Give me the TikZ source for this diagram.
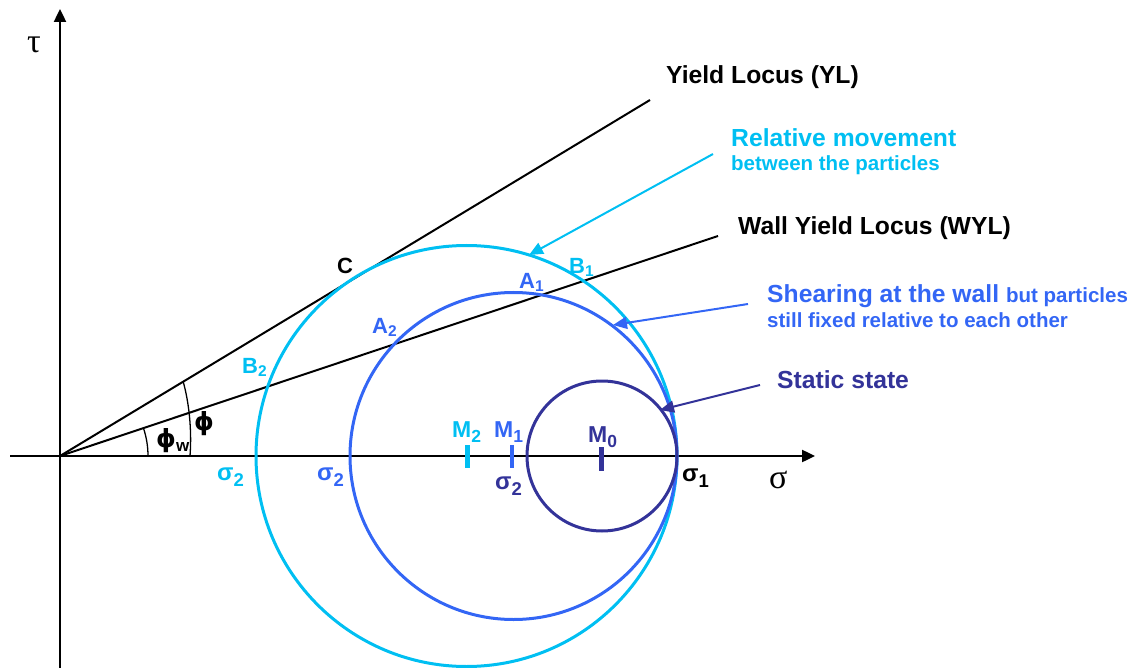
\documentclass[tikz,border=0pt]{standalone}
\usepackage{fontspec}
\setmainfont{Liberation Sans}
\newfontfamily\serifgr{Liberation Serif}
\newfontfamily\dvs{DejaVu Sans}
\usetikzlibrary{arrows.meta}
\definecolor{ccyan}{HTML}{00BFF2}
\definecolor{cblue}{HTML}{3366F5}
\definecolor{cnavy}{HTML}{333399}
\newcommand\subAB[1]{\raisebox{-3pt}{\fontsize{15.5}{15.5}\selectfont #1}}
\newcommand\subW[1]{\raisebox{-4pt}{\fontsize{17}{17}\selectfont #1}}
\newcommand\subM[1]{\raisebox{-5pt}{\fontsize{17.5}{17.5}\selectfont #1}}
\newcommand\subS[1]{\raisebox{-6pt}{\fontsize{18.5}{18.5}\selectfont #1}}
\begin{document}
\begin{tikzpicture}[x=1pt,y=-1pt,
  big/.style={font=\fontsize{24.7}{29}\selectfont\bfseries, inner sep=0pt, anchor=base west},
  small/.style={font=\fontsize{20.5}{24}\selectfont\bfseries, inner sep=0pt, anchor=base west},
  ptlbl/.style={font=\fontsize{22}{26}\selectfont\bfseries, inner sep=0pt, anchor=base west},
  philbl/.style={font=\fontsize{25}{29}\selectfont\dvs\bfseries, inner sep=0pt, anchor=base west},
  mlbl/.style={font=\fontsize{23}{27}\selectfont\bfseries, inner sep=0pt, anchor=base west},
  slbl/.style={font=\fontsize{24}{28}\selectfont\bfseries, inner sep=0pt, anchor=base west},
  greek/.style={font=\fontsize{34}{40}\selectfont\serifgr, inner sep=0pt, anchor=base west},
  axisline/.style={line width=2.4pt, -{Triangle[length=13pt,width=12pt]}},
  locus/.style={line width=2pt},
  ptr/.style={line width=2pt, -{Triangle[length=14pt,width=12pt]}},
  ring/.style={line width=3pt},
  tickmark/.style={line width=4.5pt}]
\path[use as bounding box] (0,0) rectangle (1140,668);
% key points
\coordinate (O) at (60,456);
\coordinate (ybot) at (60,668);
\coordinate (ytop) at (60,9);
\coordinate (xleft) at (10,456);
\coordinate (xright) at (815,456);
\coordinate (YLend) at (650,100);
\coordinate (WYLend) at (718,236);
\coordinate (M2) at (466.5,456);
\coordinate (M1) at (513.5,456);
\coordinate (M0) at (602,456);
% axes
\draw[axisline] (ybot) -- (ytop);
\draw[axisline] (xleft) -- (xright);
\node[greek] (tau) at (27,53) {τ};
\node[greek] (sigma) at (769,488) {σ};
% loci
\draw[locus] (O) -- (YLend);
\draw[locus] (O) -- (WYLend);
% angle arcs
\draw[line width=1.3pt] (148,456) arc[start angle=0, end angle=18.5, radius=88pt];
\draw[line width=1.3pt] (190,456) .. controls (192,430) and (189,402) .. (183,381);
\node[philbl] (phi) at (194,430) {ϕ};
\node[philbl] (phiw) at (156,447) {ϕ{\rmfamily\bfseries\subW{w}}};
% circles
\draw[ring, ccyan] (M2) circle[radius=210.5pt];
\draw[ring, cblue] (M1) circle[radius=163.5pt];
\draw[ring, cnavy] (M0) circle[radius=75pt];
% centre ticks
\draw[tickmark, ccyan] (467.5,445) -- (467.5,468);
\draw[tickmark, cblue] (512,445) -- (512,468);
\draw[tickmark, cnavy] (601.5,447) -- (601.5,471);
\node[mlbl, ccyan] (lM2) at (452,437) {M\subM{2}};
\node[mlbl, cblue] (lM1) at (494,437) {M\subM{1}};
\node[mlbl, cnavy] (lM0) at (588,442) {M\subM{0}};
% sigma labels
\node[slbl, ccyan] (s2c) at (217,480) {σ\subS{2}};
\node[slbl, cblue] (s2b) at (317,480) {σ\subS{2}};
\node[slbl, cnavy] (s2n) at (495,489) {σ\subS{2}};
\node[slbl] (s1) at (682,481) {σ\subS{1}};
% point labels
\node[ptlbl] (C) at (337,273) {C};
\node[ptlbl, ccyan] (B1) at (569,273) {B\subAB{1}};
\node[ptlbl, cblue] (A1) at (519,288) {A\subAB{1}};
\node[ptlbl, cblue] (A2) at (372,333) {A\subAB{2}};
\node[ptlbl, ccyan] (B2) at (242,373) {B\subAB{2}};
% texts
\node[big] (YL) at (666,84) {Yield Locus (YL)};
\node[big] (WYL) at (738,235) {Wall Yield Locus (WYL)};
\node[big, ccyan] (rel1) at (731,147) {Relative movement};
\node[small, ccyan] (rel2) at (731,171) {between the particles};
\node[big, cblue] (sh1) at (767,302) {Shearing at the wall {\fontsize{20.5}{24}\selectfont but particles}};
\node[small, cblue] (sh2) at (767,327) {still fixed relative to each other};
\node[big, cnavy] (st) at (777,388) {Static state};
% pointers
\coordinate (relstart) at (713,154);
\coordinate (reltip) at (529,255);
\coordinate (shstart) at (748,304);
\coordinate (shtip) at (613,325);
\coordinate (ststart) at (760,385);
\coordinate (sttip) at (660,410);
\draw[ptr, ccyan] (relstart) -- (reltip);
\draw[ptr, cblue] (shstart) -- (shtip);
\draw[ptr, cnavy] (ststart) -- (sttip);
\end{tikzpicture}
\end{document}
